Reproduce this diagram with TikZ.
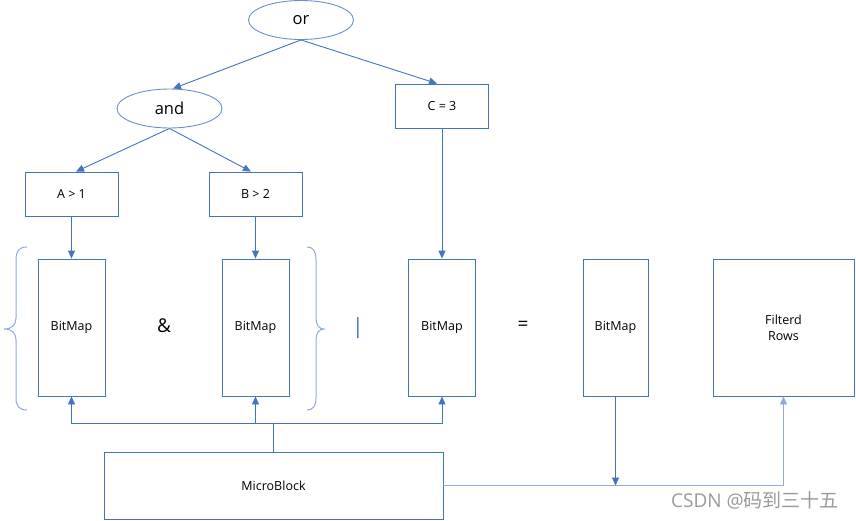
\documentclass[tikz,border=0pt]{standalone}
\usepackage{fontspec}
\setmainfont{Open Sans}
\newfontfamily\cjkfont{Noto Sans CJK SC}
\usetikzlibrary{arrows.meta,shapes.geometric}
\definecolor{lineblue}{RGB}{68,114,196}
\definecolor{lightblue}{RGB}{143,170,220}
\begin{document}
\begin{tikzpicture}[x=1pt,y=-1pt,
  oval/.style={draw=lineblue!80, line width=0.9pt, ellipse, inner sep=0pt,
    minimum width=105pt, minimum height=39pt, font=\fontsize{16.5}{18}\selectfont},
  cond/.style={draw=lineblue, line width=0.9pt, rectangle, inner sep=0pt,
    minimum width=93pt, minimum height=44pt, font=\fontsize{12.5}{14}\selectfont},
  bm/.style={draw=lineblue, line width=0.9pt, rectangle, inner sep=0pt,
    minimum width=67pt, minimum height=137pt, align=center, font=\fontsize{12.5}{16}\selectfont},
  sym/.style={inner sep=0pt, font=\fontsize{19}{21}\selectfont},
  arr/.style={draw=lineblue, line width=0.9pt, -{Triangle[length=8pt,width=7pt]}},
  conn/.style={draw=lineblue, line width=0.9pt},
  bracestyle/.style={draw=lightblue, line width=1pt}]
\useasboundingbox (0,0) rectangle (856,520);

% tree
\node[oval] (or) at (301,20) {or};
\node[oval] (and) at (169.5,108.5) {and};
\node[cond] (c3) at (442,106) {C = 3};
\node[cond] (a1) at (71.5,194) {A > 1};
\node[cond] (b2) at (255.5,194) {B > 2};

% bitmaps
\node[bm] (bm1) at (71.5,327.5) {BitMap};
\node[bm] (bm2) at (255.5,327.5) {BitMap};
\node[bm] (bm3) at (442,327.5) {BitMap};
\node[bm, minimum width=65pt] (bm4) at (615.5,327.5) {BitMap};
\node[bm, minimum width=141pt] (rows) at (783.5,327.5) {Filterd\\Rows};
\node[cond, minimum width=339pt, minimum height=67pt] (mb) at (273.5,485.5) {MicroBlock};

% operators
\node[sym] (amp) at (164,326) {\&};
\node[sym, text=lineblue, font=\fontsize{21}{23}\selectfont] (bar) at (358,328) {|};
\node[sym] (eq) at (523,326) {=};

% tree edges
\draw[arr] (or.south) -- ([xshift=3.5pt]and.north);
\draw[arr] (or.south) -- ([xshift=-5pt]c3.north);
\draw[arr] (and.south) -- ([xshift=4.5pt]a1.north);
\draw[arr] (and.south) -- ([xshift=-4.5pt]b2.north);
\draw[arr] (a1.south) -- (bm1.north);
\draw[arr] (b2.south) -- (bm2.north);
\draw[arr] (c3.south) -- (bm3.north);

% microblock connections
\coordinate (j) at (273.5,423);
\draw[conn] (mb.north) -- (j);
\draw[arr] (j) -| (bm1.south);
\draw[arr] (j) -| (bm2.south);
\draw[arr] (j) -| (bm3.south);
\draw[arr, draw=lightblue] (mb.east) -| (rows.south);
\draw[arr] (bm4.south) -- (bm4.south |- mb.east);

% braces
\draw[bracestyle] (27,247) .. controls (19,247) and (16,251) .. (16,260) -- (16,318)
  .. controls (16,325) and (12,329) .. (4,329)
  .. controls (12,329) and (16,333) .. (16,340) -- (16,398)
  .. controls (16,406) and (19,410) .. (27,410);
\draw[bracestyle] (307,247) .. controls (313,247) and (316,251) .. (316,260) -- (316,318)
  .. controls (316,325) and (319,329) .. (324,329)
  .. controls (319,329) and (316,333) .. (316,340) -- (316,398)
  .. controls (316,406) and (313,410) .. (307,410);

% watermark
\node[text=black!40, font=\fontsize{19}{21}\selectfont, inner sep=0pt] (wm) at (755,500) {CSDN @{\cjkfont 码到三十五}};
\end{tikzpicture}
\end{document}
